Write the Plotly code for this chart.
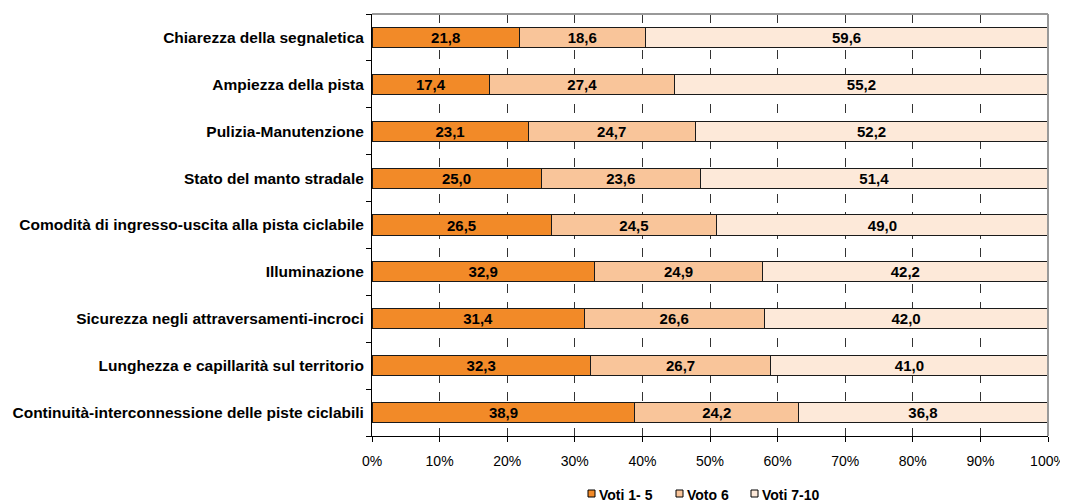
import plotly.graph_objects as go

categories = [
    "Chiarezza della segnaletica",
    "Ampiezza della pista",
    "Pulizia-Manutenzione",
    "Stato del manto stradale",
    "Comodità di ingresso-uscita alla pista ciclabile",
    "Illuminazione",
    "Sicurezza negli attraversamenti-incroci",
    "Lunghezza e capillarità sul territorio",
    "Continuità-interconnessione delle piste ciclabili",
]
voti_1_5 = [21.8, 17.4, 23.1, 25.0, 26.5, 32.9, 31.4, 32.3, 38.9]
voto_6 = [18.6, 27.4, 24.7, 23.6, 24.5, 24.9, 26.6, 26.7, 24.2]
voti_7_10 = [59.6, 55.2, 52.2, 51.4, 49.0, 42.2, 42.0, 41.0, 36.8]
series_names = ["Voti 1- 5", "Voto 6", "Voti 7-10"]
colors = ["#F28A28", "#F9C59A", "#FDE9D9"]
tick_vals = [0, 10, 20, 30, 40, 50, 60, 70, 80, 90, 100]
tick_text = [f"{v}%" for v in tick_vals]

FONT = "Liberation Sans, Arial"

# plot area in page pixels (page has an 8px body offset)
PL, PR, PT, PB = 372, 1048, 14, 436
def pxx(px):
    return (px - PL) / (PR - PL)
def pxy(py):
    return (PB - py) / (PB - PT)

fig = go.Figure()
for name, vals, col in zip(series_names, [voti_1_5, voto_6, voti_7_10], colors):
    fig.add_trace(go.Bar(
        y=categories, x=vals, name=name, orientation="h",
        marker=dict(color=col, line=dict(color="#1a1a1a", width=1)),
        text=[f"<b>{v:.1f}</b>".replace(".", ",") for v in vals],
        textposition="inside", insidetextanchor="middle",
        textfont=dict(family=FONT, size=15, color="black"),
        constraintext="none", showlegend=False,
    ))

fig.update_layout(
    barmode="stack", bargap=0.57,
    width=1068, height=501,
    margin=dict(l=PL - 8, r=1068 + 8 - PR, t=PT - 8, b=501 + 8 - PB),
    plot_bgcolor="white", paper_bgcolor="white",
    font=dict(family=FONT, size=14, color="black"),
    showlegend=False,
    uniformtext=dict(mode=False),
)
fig.update_xaxes(
    range=[0, 100], tickvals=tick_vals, ticktext=tick_text,
    showgrid=True, gridcolor="#333333", griddash="dash", gridwidth=1,
    showline=True, linecolor="black", linewidth=1,
    ticks="outside", ticklen=5, tickcolor="black",
    tickfont=dict(size=14), zeroline=False, automargin=False,
    ticklabelstandoff=7,
)
fig.update_yaxes(
    autorange="reversed", showline=True, linecolor="black", linewidth=1,
    ticks="outside", ticklen=5, tickcolor="black", tickson="boundaries",
    tickfont=dict(size=15.5, family=FONT), showgrid=False,
    ticklabelstandoff=4, automargin=False,
    tickvals=categories, ticktext=[f"<b>{c}</b>" for c in categories],
)
# gray top and right frame lines
fig.add_shape(type="line", xref="paper", yref="paper", x0=0, x1=1, y0=1, y1=1,
              line=dict(color="#999999", width=2))
fig.add_shape(type="line", xref="paper", yref="paper", x0=1, x1=1, y0=0, y1=1,
              line=dict(color="#999999", width=2))

# legend (drawn as small boxes + text)
legend_x = [588, 676, 751]
for name, col, lx in zip(series_names, colors, legend_x):
    fig.add_shape(type="rect", xref="paper", yref="paper",
                  x0=pxx(lx), x1=pxx(lx + 7), y0=pxy(497), y1=pxy(490),
                  fillcolor=col, line=dict(color="black", width=1))
    fig.add_annotation(xref="paper", yref="paper", x=pxx(lx + 9), y=pxy(495),
                       xanchor="left", yanchor="middle", showarrow=False,
                       text=f"<b>{name}</b>", font=dict(size=14, family=FONT))

fig.write_html("out.html")
